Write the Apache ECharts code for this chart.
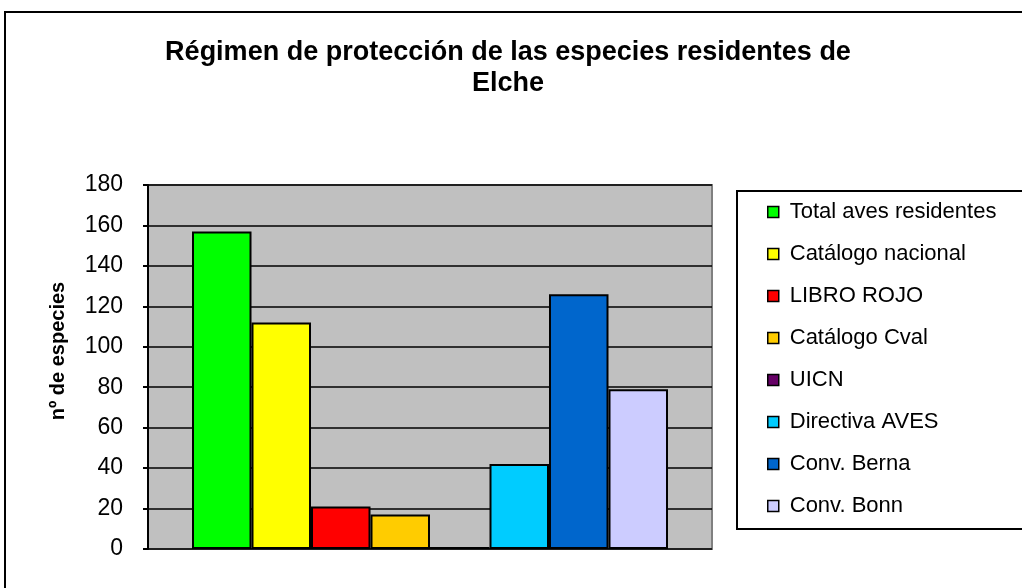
<!DOCTYPE html>
<html>
<head>
<meta charset="utf-8">
<script src="https://cdn.jsdelivr.net/npm/echarts@6/dist/echarts.min.js"></script>
<style>
  html, body { margin: 0; padding: 0; background: #fff; }
  #chart { width: 1022px; height: 588px; }
</style>
</head>
<body>
<div id="chart"></div>
<script>
const categories = ['Régimen']
const seriesNames = [
  'Total aves residentes',
  'Catálogo nacional',
  'LIBRO ROJO',
  'Catálogo Cval',
  'UICN',
  'Directiva AVES',
  'Conv. Berna',
  'Conv. Bonn',
]
const seriesValues = [157, 112, 21, 17, 1, 42, 126, 79]
const seriesColors = ['#00ff00', '#ffff00', '#ff0000', '#ffcc00', '#660066', '#00ccff', '#0066cc', '#ccccff']

const font = '"Liberation Sans", Arial, sans-serif'

const chart = echarts.init(document.getElementById('chart'))

chart.setOption({
  animation: false,
  graphic: [
    {
      type: 'rect',
      shape: { x: 5, y: 12, width: 1200, height: 800 },
      style: { fill: 'none', stroke: '#000', lineWidth: 2 },
      z: -1,
    },
  ],
  title: {
    text: 'Régimen de protección de las especies residentes de\nElche',
    left: 503,
    top: 32,
    textAlign: 'center',
    textStyle: {
      fontFamily: font,
      fontSize: 27,
      fontWeight: 'bold',
      color: '#000',
      lineHeight: 31,
    },
  },
  legend: {
    orient: 'vertical',
    left: 737,
    top: 191,
    padding: [10, 120, 12, 30],
    itemGap: 20,
    itemWidth: 11,
    itemHeight: 11,
    icon: 'rect',
    backgroundColor: '#fff',
    borderColor: '#000',
    borderWidth: 2,
    itemStyle: { borderColor: '#000', borderWidth: 1.5 },
    textStyle: {
      fontFamily: font,
      fontSize: 22,
      color: '#000',
      padding: [0, 0, 0, 6],
    },
    data: seriesNames,
  },
  grid: {
    left: 148,
    right: 310,
    top: 185,
    bottom: 39,
    show: true,
    backgroundColor: '#c0c0c0',
    borderColor: '#808080',
    borderWidth: 2,
  },
  xAxis: {
    type: 'category',
    data: categories,
    axisLine: { show: false },
    axisTick: { show: false },
    axisLabel: { show: false },
  },
  yAxis: {
    type: 'value',
    min: 0,
    max: 180,
    interval: 20,
    name: 'nº de especies',
    nameLocation: 'middle',
    nameGap: 80,
    nameTextStyle: {
      fontFamily: font,
      fontSize: 20,
      fontWeight: 'bold',
      color: '#000',
      padding: [0, 0, 0, 32],
    },
    axisLine: { show: true, lineStyle: { color: '#000', width: 2 } },
    axisTick: { show: true, length: 5, lineStyle: { color: '#000', width: 2 } },
    axisLabel: {
      fontFamily: font,
      fontSize: 23,
      color: '#000',
      margin: 25,
    },
    splitLine: { lineStyle: { color: '#000', width: 1.5 } },
  },
  series: seriesNames.map((name, i) => ({
    name,
    type: 'bar',
    barWidth: 59.5,
    barGap: '0%',
    data: [seriesValues[i]],
    itemStyle: {
      color: seriesColors[i],
      borderColor: '#000',
      borderWidth: 2,
    },
  })),
})
</script>
</body>
</html>
